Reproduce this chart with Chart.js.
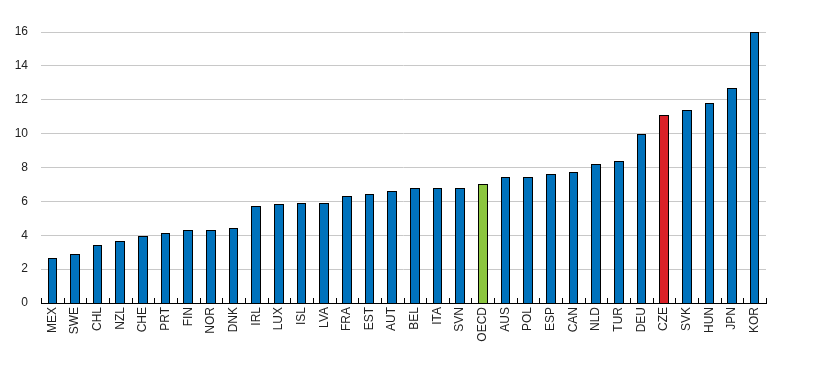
<!DOCTYPE html>
<html>
<head>
<meta charset="utf-8">
<script src="https://cdn.jsdelivr.net/npm/chart.js@4/dist/chart.umd.min.js"></script>
<style>
  html, body { margin: 0; padding: 0; background: #fff; }
  #wrap { width: 819px; height: 367px; }
</style>
</head>
<body>
<div id="wrap"><canvas id="barChart" width="819" height="367"></canvas></div>
<script>
var countries = ["MEX", "SWE", "CHL", "NZL", "CHE", "PRT", "FIN", "NOR", "DNK", "IRL", "LUX", "ISL", "LVA", "FRA", "EST", "AUT", "BEL", "ITA", "SVN", "OECD", "AUS", "POL", "ESP", "CAN", "NLD", "TUR", "DEU", "CZE", "SVK", "HUN", "JPN", "KOR"];
var values = [2.65, 2.89, 3.37, 3.66, 3.9, 4.08, 4.26, 4.26, 4.38, 5.68, 5.8, 5.86, 5.86, 6.28, 6.4, 6.57, 6.75, 6.75, 6.75, 6.99, 7.4, 7.4, 7.58, 7.7, 8.18, 8.35, 9.96, 11.09, 11.38, 11.8, 12.69, 16.0];
var yTicks = [0, 2, 4, 6, 8, 10, 12, 14, 16];

var blue = "#0072BC", green = "#8CC63F", red = "#DA2128";
var barColors = countries.map(function(c) {
  if (c == "OECD") return green;
  if (c == "CZE") return red;
  return blue;
});

// redraw each bar snapped to whole pixels so the black outline stays crisp
var crispBars = {
  id: "crispBars",
  afterDatasetsDraw: function(chart) {
    var ctx = chart.ctx;
    var meta = chart.getDatasetMeta(0);
    ctx.save();
    ctx.lineWidth = 1;
    ctx.strokeStyle = "#000";
    meta.data.forEach(function(bar, i) {
      var p = bar.getProps(["x", "y", "base", "width"], true);
      var l = Math.floor(p.x - p.width / 2);
      var r = Math.ceil(p.x + p.width / 2);
      var t = Math.floor(p.y);
      var b = Math.round(p.base);
      ctx.fillStyle = barColors[i];
      ctx.fillRect(l, t, r - l, b - t);
      ctx.strokeRect(l + 0.5, t + 0.5, r - l - 1, b - t);
    });
    ctx.restore();
  }
};

// small tick marks pointing up from the x baseline, between categories
var upTicks = {
  id: "upTicks",
  afterDatasetsDraw: function(chart) {
    var ctx = chart.ctx, area = chart.chartArea;
    var n = countries.length;
    var step = (area.right - area.left) / n;
    ctx.save();
    ctx.strokeStyle = "#000";
    ctx.lineWidth = 1;
    ctx.beginPath();
    for (var i = 0; i <= n; i++) {
      var x = Math.round(area.left + i * step) + 0.5;
      ctx.moveTo(x, area.bottom);
      ctx.lineTo(x, area.bottom - 5);
    }
    ctx.stroke();
    ctx.restore();
  }
};

var ctx = document.getElementById("barChart").getContext("2d");
var chart = new Chart(ctx, {
  type: "bar",
  data: {
    labels: countries,
    datasets: [{
      data: values,
      backgroundColor: barColors,
      borderWidth: 0,
      barPercentage: 0.38,
      categoryPercentage: 1.0
    }]
  },
  options: {
    responsive: false,
    animation: false,
    layout: { padding: { left: 0, right: 53, top: 32, bottom: 0 } },
    plugins: { legend: { display: false }, tooltip: { enabled: false } },
    scales: {
      x: {
        grid: { display: false, drawTicks: false },
        border: { display: true, color: "#000", width: 1 },
        ticks: {
          minRotation: 90, maxRotation: 90, autoSkip: false,
          color: "#222", padding: 4,
          font: { family: "Liberation Sans, Arial", size: 12 }
        },
        afterFit: function(scale) { scale.height = 64; }
      },
      y: {
        min: 0, max: 16,
        afterBuildTicks: function(scale) {
          scale.ticks = yTicks.map(function(v) { return { value: v }; });
        },
        grid: { color: "#c8c8c8", lineWidth: 1, drawTicks: false },
        border: { display: false },
        ticks: {
          color: "#222", padding: 13,
          font: { family: "Liberation Sans, Arial", size: 12 }
        },
        afterFit: function(scale) { scale.width = 41; }
      }
    }
  },
  plugins: [crispBars, upTicks]
});
</script>
</body>
</html>
